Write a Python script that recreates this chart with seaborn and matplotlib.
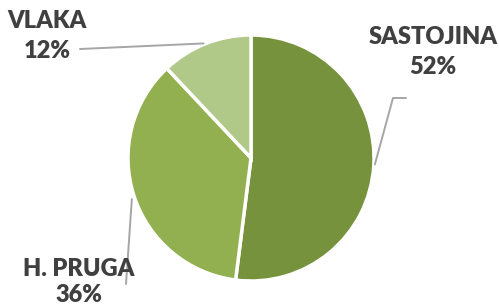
import numpy as np
import matplotlib
matplotlib.use("Agg")
import matplotlib.pyplot as plt
import seaborn as sns

categories = ["SASTOJINA", "H. PRUGA", "VLAKA"]
shares = [52, 36, 12]
colors = ["#76923C", "#92B050", "#B0C888"]

sns.set_theme(style="white")
plt.rcParams["font.family"] = ["Lato", "DejaVu Sans"]

W, H = 499, 306
fig = plt.figure(figsize=(W / 100, H / 100), dpi=100)
ax = fig.add_axes([0, 0, 1, 1])

cx, cy, r = 251, H - 158, 123
wedges, _ = ax.pie(shares, colors=colors, startangle=90, counterclock=False,
                   center=(cx, cy), radius=r, frame=True,
                   wedgeprops=dict(edgecolor="white", linewidth=2.5))
ax.set_xlim(0, W)
ax.set_ylim(0, H)
ax.set_aspect("equal")
ax.axis("off")

txt = dict(ha="center", va="center", fontsize=17, fontweight="heavy", color="#404040")
line = dict(color="#A6A6A6", lw=1.4)

def edge(angle_deg, rr=r + 1):
    a = np.deg2rad(angle_deg)
    return cx + rr * np.cos(a), cy + rr * np.sin(a)

# leader lines start on the wedge edges
ex, ey = edge(-3)
ax.plot([ex, 393, 406], [ey, H - 98, H - 98], **line)
ax.text(433, H - 52, f"{categories[0]}\n{shares[0]}%", linespacing=1.5, **txt)

ex, ey = edge(-161, r + 3)
ax.plot([ex, 126], [ey, H - 284], **line)
ax.text(79, H - 282, f"{categories[1]}\n{shares[1]}%", linespacing=1.25, **txt)

ex, ey = edge(112.5)
ax.plot([ex, 80], [ey, H - 49], **line)
ax.text(47, H - 36, f"{categories[2]}\n{shares[2]}%", linespacing=1.4, **txt)

fig.savefig("out.png", dpi=100)
